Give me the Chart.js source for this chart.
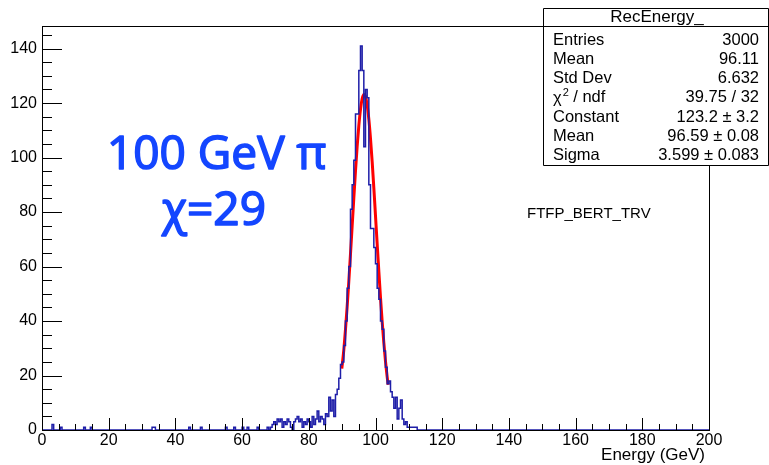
<!DOCTYPE html>
<html>
<head>
<meta charset="utf-8">
<title>RecEnergy_</title>
<script src="https://cdn.jsdelivr.net/npm/chart.js@4/dist/chart.umd.min.js"></script>
<style>
    html, body { margin: 0; padding: 0; background: #fff; }
    #wrap { width: 769px; height: 465px; }
</style>
</head>
<body>
<div id="wrap"><canvas id="recEnergy" width="769" height="465"></canvas></div>
<script>
// Histograma RecEnergy_ : 400 bins de 0.5 GeV entre 0 y 200 GeV

const binWidth = 0.5;
const xMin = 0;
const xMax = 200;
const yMax = 148.3;

// contenido de los bins alrededor del pico, desde 68.5 GeV (borde inferior) cada 0.5 GeV
const peakStart = 68.5;
const peakCounts = [
    1, 2, 3, 2, 4, 3, 4, 1, 3, 2,          // 68.5 - 73.0
    4, 3, 1, 0, 3, 4, 5, 3, 4, 1,          // 73.5 - 78.0
    3, 2, 4, 3, 1, 5, 2, 4, 7, 3,          // 78.5 - 83.0
    5, 4, 2, 6, 5, 12, 7, 11, 5, 13,       // 83.5 - 88.0
    15, 19, 24, 25, 31, 40, 52, 60, 81, 90, // 88.5 - 93.0
    99, 116, 116, 132, 141, 132, 104, 125, 122, 90, // 93.5 - 98.0
    74, 74, 67, 61, 52, 48, 40, 37, 29, 23, // 98.5 - 103.0
    17, 18, 14, 12, 8, 12, 4, 8, 11, 4,    // 103.5 - 108.0
    2, 3, 1, 1, 1, 1, 1, 1, 0              // 108.5 - 112.5
];

// entradas sueltas lejos del pico: [borde inferior, cuentas]
const strayBins = [
    [3.0, 2], [5.5, 1], [12.5, 1], [14.5, 1], [33.0, 1], [33.5, 1],
    [44.0, 1], [47.5, 1], [55.0, 1], [57.5, 1], [60.0, 1], [61.5, 1],
    [64.5, 1], [67.5, 1]
];

// ajuste gaussiano (curva roja)
const fitEnergy = [89.9, 90.5, 91, 91.5, 92, 92.5, 93, 93.5, 94, 94.5, 95, 95.5, 96, 96.5,
    97, 97.5, 98, 98.5, 99, 99.5, 100, 100.5, 101, 101.5, 102, 102.5, 103, 103.5, 103.8];
const fitValues = [22.5, 29.4, 36.9, 45.3, 54.6, 64.6, 74.9, 85.2, 95.1, 104.1, 111.7, 117.7, 121.6, 123.2,
    122.4, 119.3, 114.1, 107.0, 98.5, 88.9, 78.6, 68.3, 58.2, 48.6, 39.8, 32.0, 25.2, 19.5, 16.6];

// caja de estadísticas
const statsTitle = 'RecEnergy_';
const statsLabels = ['Entries', 'Mean', 'Std Dev', 'χ2 / ndf', 'Constant', 'Mean', 'Sigma'];
const statsValues = ['3000', '96.11', '6.632', '39.75 / 32', '123.2 ± 3.2', '96.59 ± 0.08', '3.599 ± 0.083'];

const labelLine1 = '100 GeV π';
const labelLine2 = 'χ=29';
const physicsList = 'FTFP_BERT_TRV';
const xTitle = 'Energy (GeV)';

// armar la tabla completa de bins
function construirBins() {
    const nBins = Math.round((xMax - xMin) / binWidth);
    const counts = new Array(nBins).fill(0);
    peakCounts.forEach((c, i) => {
        counts[Math.round((peakStart - xMin) / binWidth) + i] = c;
    });
    strayBins.forEach(([e, c]) => {
        counts[Math.round((e - xMin) / binWidth)] = c;
    });
    const pts = counts.map((c, i) => ({ x: xMin + i * binWidth, y: c }));
    pts.push({ x: xMax, y: 0 });
    return pts;
}

const FONT = "'Liberation Sans', Arial, Helvetica, sans-serif";

// marco, ticks hacia adentro (estilo ROOT)
const marcoRoot = {
    id: 'marcoRoot',
    afterDatasetsDraw(chart) {
        const { ctx, chartArea: a, scales: { x, y } } = chart;
        ctx.save();
        ctx.strokeStyle = '#000';
        ctx.lineWidth = 1;
        ctx.strokeRect(a.left + 0.5, a.top + 0.5, a.right - a.left, a.bottom - a.top);
        ctx.beginPath();
        for (let v = xMin; v <= xMax; v += 5) {
            const px = Math.round(x.getPixelForValue(v)) + 0.5;
            const len = v % 20 === 0 ? 12 : 6;
            ctx.moveTo(px, a.bottom);
            ctx.lineTo(px, a.bottom - len);
        }
        for (let v = 0; v <= yMax; v += 5) {
            const py = Math.round(y.getPixelForValue(v)) + 0.5;
            const len = v % 20 === 0 ? 20 : 10;
            ctx.moveTo(a.left, py);
            ctx.lineTo(a.left + len, py);
        }
        ctx.stroke();

        // titulo del eje x, alineado a la derecha
        ctx.fillStyle = '#000';
        ctx.font = '17px ' + FONT;
        ctx.textAlign = 'right';
        ctx.textBaseline = 'middle';
        ctx.fillText(xTitle, 705, 455);
        ctx.restore();
    },
    afterDraw(chart) {
        const ctx = chart.ctx;
        ctx.save();

        // textos azules (trazo algo grueso, como el original)
        ctx.fillStyle = '#1446ff';
        ctx.strokeStyle = '#1446ff';
        ctx.lineWidth = 1.6;
        ctx.lineJoin = 'round';
        ctx.textBaseline = 'middle';
        ctx.textAlign = 'left';
        ctx.font = "46px 'Open Sans', sans-serif";
        ctx.fillText(labelLine1, 107, 156);
        ctx.strokeText(labelLine1, 107, 156);
        ctx.fillText(labelLine2, 162, 212);
        ctx.strokeText(labelLine2, 162, 212);

        ctx.fillStyle = '#000';
        ctx.font = '15px ' + FONT;
        ctx.fillText(physicsList, 527, 214);

        // caja de estadísticas
        const bx = 543.5, by = 8.5, bw = 225, bh = 157;
        ctx.fillStyle = '#fff';
        ctx.fillRect(bx, by, bw, bh);
        ctx.strokeStyle = '#000';
        ctx.lineWidth = 1;
        ctx.strokeRect(bx, by, bw, bh);
        ctx.beginPath();
        ctx.moveTo(bx, 26.5);
        ctx.lineTo(bx + bw, 26.5);
        ctx.stroke();

        ctx.fillStyle = '#000';
        ctx.font = '17px ' + FONT;
        ctx.textAlign = 'center';
        ctx.fillText(statsTitle, bx + bw / 2 + 1, 17.5);

        const rowFont = '16.5px ' + FONT;
        ctx.font = rowFont;
        statsLabels.forEach((lab, i) => {
            const ty = 40 + i * 19.3;
            ctx.textAlign = 'left';
            if (lab.startsWith('χ2')) {
                ctx.fillText('χ', 553, ty + 1);
                const w = ctx.measureText('χ').width;
                ctx.font = '11px ' + FONT;
                ctx.fillText('2', 553 + w + 1, ty - 5);
                ctx.font = rowFont;
                ctx.fillText(lab.slice(2), 553 + w + 7, ty);
            } else {
                ctx.fillText(lab, 553, ty);
            }
            ctx.textAlign = 'right';
            ctx.fillText(statsValues[i], 759, ty);
        });
        ctx.restore();
    }
};

function dibujarHistograma() {
    const ctx = document.getElementById('recEnergy').getContext('2d');
    new Chart(ctx, {
        type: 'line',
        data: {
            datasets: [{
                label: 'RecEnergy_',
                data: construirBins(),
                stepped: true,
                borderColor: '#1e1ea8',
                borderWidth: 1.5,
                pointRadius: 0,
                fill: false
            }, {
                label: 'gaus',
                data: fitEnergy.map((e, i) => ({ x: e, y: fitValues[i] })),
                borderColor: '#ff0000',
                borderWidth: 3,
                pointRadius: 0,
                tension: 0.4,
                cubicInterpolationMode: 'monotone',
                fill: false
            }]
        },
        options: {
            responsive: false,
            animation: false,
            devicePixelRatio: 1,
            layout: { padding: { top: 26, right: 60, left: 0, bottom: 0 } },
            plugins: {
                legend: { display: false },
                tooltip: { enabled: false },
                title: { display: false }
            },
            scales: {
                x: {
                    type: 'linear',
                    min: xMin,
                    max: xMax,
                    afterFit: s => { s.height = 35; },
                    grid: { display: false, drawTicks: false },
                    border: { display: false },
                    ticks: {
                        stepSize: 20,
                        includeBounds: false,
                        maxRotation: 0,
                        autoSkip: false,
                        padding: 1,
                        color: '#000',
                        font: { family: FONT, size: 16 }
                    }
                },
                y: {
                    min: 0,
                    max: yMax,
                    afterFit: s => { s.width = 42; },
                    grid: { display: false, drawTicks: false },
                    border: { display: false },
                    ticks: {
                        stepSize: 20,
                        includeBounds: false,
                        padding: 5,
                        color: '#000',
                        font: { family: FONT, size: 16 }
                    }
                }
            }
        },
        plugins: [marcoRoot]
    });
}

document.addEventListener('DOMContentLoaded', dibujarHistograma);
</script>
</body>
</html>
